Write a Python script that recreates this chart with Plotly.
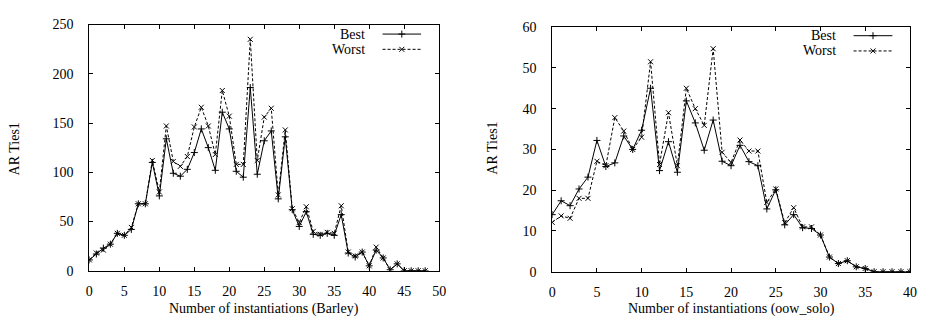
import plotly.graph_objects as go

# ---------------- data ----------------
barley_x = list(range(0, 49))
barley_best = [11, 17, 23, 27, 38, 36, 42, 68, 68, 110, 76, 134, 99, 96, 103, 120,
               144, 125, 102, 161, 144, 101, 95, 186, 98, 132, 142, 73, 136, 62, 45,
               60, 37, 36, 38, 36, 57, 18, 14, 19, 5, 21, 13, 1, 7, 0, 0, 0, 0]
barley_worst = [11, 18, 21, 27, 38, 36, 44, 68, 68, 112, 80, 147, 111, 106, 116, 146,
                166, 147, 118, 183, 157, 108, 108, 235, 112, 156, 165, 77, 143, 63, 49,
                65, 40, 37, 39, 38, 66, 19, 15, 19, 5, 24, 13, 1, 7, 0, 0, 0, 0]

oow_x = list(range(0, 41))
oow_best = [14, 17.4, 16.2, 20.3, 23.2, 32.2, 25.8, 26.7, 33.3, 30, 34.7, 45, 24.8,
            31.9, 24.4, 41.9, 36.5, 29.8, 37.2, 27.1, 26, 31, 27, 26, 15.4, 20.1,
            11.5, 14, 10.8, 10.6, 9, 3.6, 2, 2.7, 1.2, 0.8, 0, 0, 0, 0, 0]
oow_worst = [12.1, 13.7, 13.1, 18, 18, 27.1, 26, 37.8, 34.5, 30, 33, 51.5, 26.3,
             39, 26, 45, 40, 35.9, 54.7, 29.3, 26.8, 32.3, 29.6, 29.6, 17, 20.3,
             12, 15.7, 11, 11, 9, 3.6, 2, 2.7, 1.2, 0.8, 0, 0, 0, 0, 0]

x_titles = ["Number of instantiations (Barley)", "Number of instantiations (oow_solo)"]
y_title = "AR Ties1"
series_names = ["Best", "Worst"]

# ---------------- layout constants ----------------
W, H = 926, 321
FONT = "'Liberation Serif', 'Times New Roman', Times, 'DejaVu Serif', serif"
FS = 14
panels = [
    dict(x0=78.3, x1=432.3, ytop=10.0, ybot=268.3, xr=[0, 50], yr=[0, 250], dy=50, ytx=2),
    dict(x0=546.7, x1=908.7, ytop=12.7, ybot=269.3, xr=[0, 40], yr=[0, 60], dy=10, ytx=486),
]
data = [(barley_x, barley_best, barley_worst), (oow_x, oow_best, oow_worst)]

best_marker = dict(symbol="cross-thin", size=5, line=dict(width=1, color="black"), color="black")
worst_marker = dict(symbol="x-thin", size=5, line=dict(width=1, color="black"), color="black")
best_line = dict(color="black", width=1)
worst_line = dict(color="black", width=1, dash="3px,2px")

fig = go.Figure()
annotations = []

for i, (p, (xs, b, w)) in enumerate(zip(panels, data)):
    n = "" if i == 0 else str(i + 1)
    xa, ya = "x" + n, "y" + n
    fig.add_trace(go.Scatter(x=xs, y=b, mode="lines+markers", line=best_line,
                             marker=best_marker, xaxis=xa, yaxis=ya, showlegend=False,
                             name=series_names[0]))
    fig.add_trace(go.Scatter(x=xs, y=w, mode="lines+markers", line=worst_line,
                             marker=worst_marker, xaxis=xa, yaxis=ya, showlegend=False,
                             name=series_names[1]))
    common = dict(showline=True, linecolor="black", linewidth=1, mirror="ticks",
                  ticks="inside", ticklen=4, tickwidth=1, tickcolor="black",
                  showgrid=False, zeroline=False,
                  tickfont=dict(family=FONT, size=FS, color="black"))
    fig.layout["xaxis" + n] = dict(domain=[p["x0"] / W, p["x1"] / W], range=p["xr"],
                                   dtick=5, tick0=0, anchor=ya, ticklabelstandoff=7, **common)
    fig.layout["yaxis" + n] = dict(domain=[1 - p["ybot"] / H, 1 - p["ytop"] / H], range=p["yr"],
                                   dtick=p["dy"], tick0=0, anchor=xa, ticklabelstandoff=12, **common)
    # axis titles
    annotations.append(dict(text=x_titles[i], xref="paper", yref="paper",
                            x=(p["x0"] + p["x1"]) / 2 / W, y=1 - 308 / H,
                            showarrow=False, xanchor="center", yanchor="middle",
                            font=dict(family=FONT, size=FS, color="black")))
    annotations.append(dict(text=y_title, xref="paper", yref="paper",
                            x=p["ytx"] / W, y=1 - 140 / H, textangle=-90,
                            showarrow=False, xanchor="center", yanchor="middle",
                            font=dict(family=FONT, size=FS, color="black")))

# ---------------- gnuplot-style key (text left of sample) ----------------
keys = [
    dict(tx=358, l0=375, l1=414, yb=20, yw=36),
    dict(tx=835, l0=851.7, l1=891, yb=21.7, yw=37.7),
]
fig.layout["xaxis3"] = dict(domain=[0, 1], range=[0, W], visible=False, anchor="y3",
                            fixedrange=True)
fig.layout["yaxis3"] = dict(domain=[0, 1], range=[H, 0], visible=False, anchor="x3",
                            fixedrange=True)
for k in keys:
    for yy, nm, ln, mk in [(k["yb"], series_names[0], best_line, best_marker),
                           (k["yw"], series_names[1], worst_line, worst_marker)]:
        fig.add_trace(go.Scatter(x=[k["l0"], k["l1"]], y=[yy, yy], mode="lines", line=ln,
                                 xaxis="x3", yaxis="y3", showlegend=False, hoverinfo="skip"))
        fig.add_trace(go.Scatter(x=[(k["l0"] + k["l1"]) / 2], y=[yy], mode="markers",
                                 marker=mk, xaxis="x3", yaxis="y3", showlegend=False,
                                 hoverinfo="skip"))
        annotations.append(dict(text=nm, xref="paper", yref="paper", x=k["tx"] / W,
                                y=1 - yy / H, xanchor="right", yanchor="middle",
                                showarrow=False, borderpad=0,
                                font=dict(family=FONT, size=FS, color="black")))

fig.update_layout(width=W, height=H, margin=dict(l=0, r=0, t=0, b=0),
                  paper_bgcolor="white", plot_bgcolor="rgba(0,0,0,0)",
                  font=dict(family=FONT, color="black"),
                  annotations=annotations, showlegend=False)

fig.write_html("out.html")
